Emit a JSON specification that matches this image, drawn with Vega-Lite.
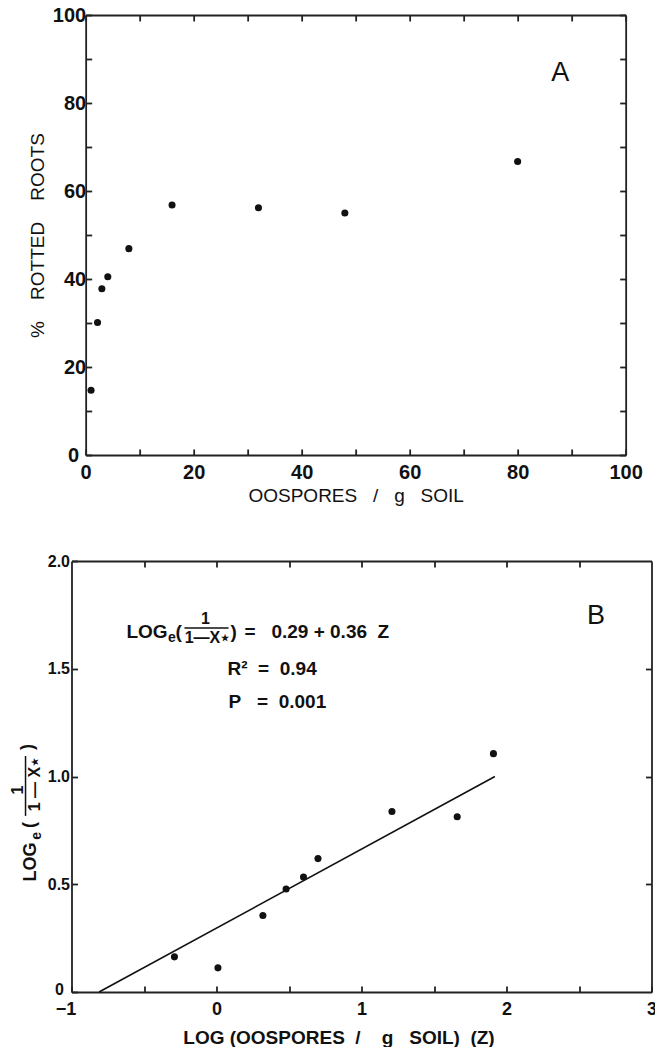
{
  "$schema": "https://vega.github.io/schema/vega-lite/v6.json",
  "padding": {"left": 10, "top": 5, "right": 0, "bottom": 0},
  "background": "white",
  "config": {
    "font": "Liberation Sans",
    "view": {"stroke": null},
    "axis": {
      "grid": false, "labelFlush": false,
      "domainColor": "#222", "domainWidth": 1.8,
      "tickColor": "#222", "tickWidth": 1.8, "tickSize": -6,
      "labelFont": "Liberation Sans", "labelFontWeight": "bold", "labelColor": "#111",
      "titleFont": "Liberation Sans", "titleColor": "#111", "titleFontWeight": "normal"
    },
    "text": {"font": "Liberation Sans", "color": "#111"},
    "circle": {"color": "#111", "opacity": 1},
    "rule": {"color": "#111"}
  },
  "spacing": 48,
  "center": true,
  "vconcat": [
    {
      "width": 540, "height": 440,
      "layer": [
        {
          "data": {"values": [
            {"oospores": 1, "rotted": 14.7}, {"oospores": 2.2, "rotted": 30.1}, {"oospores": 3, "rotted": 37.8},
            {"oospores": 4.1, "rotted": 40.5}, {"oospores": 8, "rotted": 46.9}, {"oospores": 16, "rotted": 56.8},
            {"oospores": 32, "rotted": 56.2}, {"oospores": 48, "rotted": 55.0}, {"oospores": 80, "rotted": 66.7}
          ]},
          "mark": {"type": "circle", "size": 50},
          "encoding": {
            "x": {"field": "oospores", "type": "quantitative", "scale": {"domain": [0, 100], "nice": false},
              "axis": {"orient": "bottom", "values": [0,10,20,30,40,50,60,70,80,90,100],
                "labelExpr": "datum.value % 20 === 0 ? datum.label : ''", "labelFontSize": 20, "labelPadding": 13,
                "title": "OOSPORES\u00a0\u00a0\u00a0/\u00a0\u00a0\u00a0g\u00a0\u00a0\u00a0SOIL", "titleFontSize": 19, "titlePadding": 4}},
            "y": {"field": "rotted", "type": "quantitative", "scale": {"domain": [0, 100], "nice": false},
              "axis": {"orient": "left", "values": [0,10,20,30,40,50,60,70,80,90,100],
                "labelExpr": "datum.value % 20 === 0 ? datum.label : ''", "labelFontSize": 20,
                "labelPadding": {"condition": {"test": "datum.value === 0", "value": 13}, "value": 6},
                "title": "%\u00a0\u00a0\u00a0\u00a0ROTTED\u00a0\u00a0\u00a0\u00a0ROOTS", "titleFontSize": 19, "titlePadding": 5}}
          }
        },
        {
          "data": {"values": [{"x": 87.9, "y": 86.8, "panel": "A"}]},
          "mark": {"type": "text", "fontSize": 27, "align": "center", "baseline": "middle"},
          "encoding": {
            "x": {"field": "x", "type": "quantitative", "scale": {"domain": [0, 100], "nice": false},
              "axis": {"orient": "top", "values": [0,10,20,30,40,50,60,70,80,90,100], "labels": false, "title": null}},
            "y": {"field": "y", "type": "quantitative", "scale": {"domain": [0, 100], "nice": false},
              "axis": {"orient": "right", "values": [0,10,20,30,40,50,60,70,80,90,100], "labels": false, "title": null}},
            "text": {"field": "panel"}
          }
        }
      ],
      "resolve": {"axis": {"x": "independent", "y": "independent"}}
    },
    {
      "width": 580, "height": 431,
      "layer": [
        {
          "data": {"values": [
            {"z": -0.29, "v": 0.163}, {"z": 0.01, "v": 0.112}, {"z": 0.32, "v": 0.355},
            {"z": 0.48, "v": 0.478}, {"z": 0.60, "v": 0.534}, {"z": 0.70, "v": 0.619},
            {"z": 1.21, "v": 0.838}, {"z": 1.66, "v": 0.813}, {"z": 1.91, "v": 1.106}
          ]},
          "mark": {"type": "circle", "size": 50},
          "encoding": {
            "x": {"field": "z", "type": "quantitative", "scale": {"domain": [-1, 3], "nice": false},
              "axis": {"orient": "bottom", "values": [-1,-0.5,0,0.5,1,1.5,2,2.5,3],
                "labelExpr": "datum.value % 1 === 0 ? format(datum.value, 'd') : ''", "labelFontSize": 18, "labelPadding": 14,
                "labelOffset": {"condition": {"test": "datum.value === -1", "value": -6}, "value": 0},
                "title": "LOG\u00a0(OOSPORES\u00a0\u00a0/\u00a0\u00a0\u00a0\u00a0g\u00a0\u00a0\u00a0SOIL)\u00a0\u00a0(Z)", "titleFontSize": 19,
                "titleFontWeight": "bold", "titlePadding": 10, "titleX": 267}},
            "y": {"field": "v", "type": "quantitative", "scale": {"domain": [0, 2], "nice": false},
              "axis": {"orient": "left", "values": [0,0.5,1,1.5,2],
                "labelExpr": "datum.value === 0 ? '0' : format(datum.value, '.1f')", "labelFontSize": 16,
                "labelPadding": {"condition": {"test": "datum.value === 0", "value": 14}, "value": 8},
                "labelOffset": {"condition": {"test": "datum.value === 0", "value": -3}, "value": 0},
                "title": null}}
          }
        },
        {
          "data": {"values": [{"z": -0.81, "v": 0}, {"z": 1.92, "v": 1.0}]},
          "mark": {"type": "line", "color": "#111", "strokeWidth": 1.6},
          "encoding": {
            "x": {"field": "z", "type": "quantitative", "scale": {"domain": [-1, 3], "nice": false},
              "axis": {"orient": "top", "values": [-0.5,0,0.5,1,1.5,2,2.5], "labels": false, "title": null}},
            "y": {"field": "v", "type": "quantitative", "scale": {"domain": [0, 2], "nice": false},
              "axis": {"orient": "right", "values": [0.5,1,1.5], "labels": false, "title": null}}
          }
        },
        {
          "data": {"values": [
            {"z": -0.621, "v": 1.671, "t": "LOG"},
            {"z": -0.283, "v": 1.671, "t": "("},
            {"z": 0.097, "v": 1.671, "t": ")"},
            {"z": 0.193, "v": 1.671, "t": "=\u00a0\u00a0\u00a00.29\u00a0+\u00a00.36\u00a0\u00a0Z"},
            {"z": 0.076, "v": 1.499, "t": "R\u00b2\u00a0\u00a0=\u00a0\u00a00.94"},
            {"z": 0.083, "v": 1.346, "t": "P\u00a0\u00a0\u00a0=\u00a0\u00a00.001"}
          ]},
          "mark": {"type": "text", "fontSize": 19, "fontWeight": "bold", "align": "left", "baseline": "middle"},
          "encoding": {
            "x": {"field": "z", "type": "quantitative", "scale": {"domain": [-1, 3], "nice": false}, "axis": null},
            "y": {"field": "v", "type": "quantitative", "scale": {"domain": [0, 2], "nice": false}, "axis": null},
            "text": {"field": "t"}
          }
        },
        {
          "data": {"values": [{"z": -0.335, "v": 1.645, "t": "e"}]},
          "mark": {"type": "text", "fontSize": 14, "fontWeight": "bold", "align": "left", "baseline": "middle"},
          "encoding": {
            "x": {"field": "z", "type": "quantitative", "scale": {"domain": [-1, 3], "nice": false}, "axis": null},
            "y": {"field": "v", "type": "quantitative", "scale": {"domain": [0, 2], "nice": false}, "axis": null},
            "text": {"field": "t"}
          }
        },
        {
          "data": {"values": [{"z": -0.076, "v": 1.73, "t": "1"}, {"z": -0.062, "v": 1.643, "t": "1\u2014X\u22c6"}]},
          "mark": {"type": "text", "fontSize": 16, "fontWeight": "bold", "align": "center", "baseline": "middle"},
          "encoding": {
            "x": {"field": "z", "type": "quantitative", "scale": {"domain": [-1, 3], "nice": false}, "axis": null},
            "y": {"field": "v", "type": "quantitative", "scale": {"domain": [0, 2], "nice": false}, "axis": null},
            "text": {"field": "t"}
          }
        },
        {
          "data": {"values": [{"z": -0.221, "z2": 0.083, "v": 1.689}]},
          "mark": {"type": "rule", "strokeWidth": 1.5},
          "encoding": {
            "x": {"field": "z", "type": "quantitative", "scale": {"domain": [-1, 3], "nice": false}, "axis": null},
            "x2": {"field": "z2"},
            "y": {"field": "v", "type": "quantitative", "scale": {"domain": [0, 2], "nice": false}, "axis": null}
          }
        },
        {
          "data": {"values": [{"z": 2.617, "v": 1.745, "t": "B"}]},
          "mark": {"type": "text", "fontSize": 27, "align": "center", "baseline": "middle"},
          "encoding": {
            "x": {"field": "z", "type": "quantitative", "scale": {"domain": [-1, 3], "nice": false}, "axis": null},
            "y": {"field": "v", "type": "quantitative", "scale": {"domain": [0, 2], "nice": false}, "axis": null},
            "text": {"field": "t"}
          }
        },
        {
          "data": {"values": [
            {"z": -1.279, "v": 0.603, "t": "LOG"},
            {"z": -1.283, "v": 0.775, "t": "("},
            {"z": -1.303, "v": 1.137, "t": ")"}
          ]},
          "mark": {"type": "text", "fontSize": 18, "fontWeight": "bold", "angle": 270, "align": "center", "baseline": "middle"},
          "encoding": {
            "x": {"field": "z", "type": "quantitative", "scale": {"domain": [-1, 3], "nice": false}, "axis": null},
            "y": {"field": "v", "type": "quantitative", "scale": {"domain": [0, 2], "nice": false}, "axis": null},
            "text": {"field": "t"}
          }
        },
        {
          "data": {"values": [{"z": -1.241, "v": 0.724, "t": "e"}]},
          "mark": {"type": "text", "fontSize": 14, "fontWeight": "bold", "angle": 270, "align": "center", "baseline": "middle"},
          "encoding": {
            "x": {"field": "z", "type": "quantitative", "scale": {"domain": [-1, 3], "nice": false}, "axis": null},
            "y": {"field": "v", "type": "quantitative", "scale": {"domain": [0, 2], "nice": false}, "axis": null},
            "text": {"field": "t"}
          }
        },
        {
          "data": {"values": [{"z": -1.366, "v": 0.937, "t": "1"}, {"z": -1.255, "v": 0.965, "t": "1\u00a0\u2014\u00a0X\u22c6"}]},
          "mark": {"type": "text", "fontSize": 16, "fontWeight": "bold", "angle": 270, "align": "center", "baseline": "middle"},
          "encoding": {
            "x": {"field": "z", "type": "quantitative", "scale": {"domain": [-1, 3], "nice": false}, "axis": null},
            "y": {"field": "v", "type": "quantitative", "scale": {"domain": [0, 2], "nice": false}, "axis": null},
            "text": {"field": "t"}
          }
        },
        {
          "data": {"values": [{"z": -1.317, "v": 0.817, "v2": 1.095}]},
          "mark": {"type": "rule", "strokeWidth": 1.5},
          "encoding": {
            "x": {"field": "z", "type": "quantitative", "scale": {"domain": [-1, 3], "nice": false}, "axis": null},
            "y": {"field": "v", "type": "quantitative", "scale": {"domain": [0, 2], "nice": false}, "axis": null},
            "y2": {"field": "v2"}
          }
        }
      ],
      "resolve": {"axis": {"x": "independent", "y": "independent"}}
    }
  ]
}
